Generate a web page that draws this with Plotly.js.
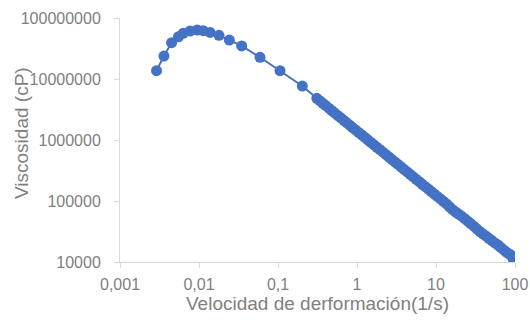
<!DOCTYPE html>
<html>
<head>
<meta charset="utf-8">
<script src="https://cdn.plot.ly/plotly-3.0.1.min.js"></script>
<style>html,body{margin:0;padding:0;background:#fff;}#chart{width:530px;height:325px;}</style>
</head>
<body>
<div id="chart"></div>
<script>
// Shear rate (1/s)
const shearRate = [
  0.0029, 0.0036, 0.0045, 0.0055, 0.0063, 0.0077, 0.0095, 0.0113, 0.0138, 0.0179, 0.0242, 0.0347, 0.0592,
  0.106, 0.203,
  0.31, 0.34, 0.37, 0.40, 0.44, 0.48, 0.52, 0.57, 0.62, 0.68, 0.74, 0.81, 0.88, 0.96,
  1.05, 1.15, 1.26, 1.37, 1.5, 1.64, 1.79, 1.95, 2.13, 2.33, 2.54, 2.78, 3.03, 3.31, 3.62, 3.95,
  4.32, 4.71, 5.15, 5.62, 6.14, 6.71, 7.33, 8.0, 8.74, 9.55,
  10.4, 11.4, 12.4, 13.6, 14.8, 16.2, 17.7, 19.3, 21.1, 23.1, 25.2, 27.5, 30.1, 32.8, 35.9, 39.2,
  42.8, 46.7, 51.0, 55.7, 60.9, 66.5, 72.6, 79.3, 86.6, 94.6
];
// Viscosity (cP)
const viscosity = [
  13700000, 23800000, 39400000, 49300000, 56000000, 61000000, 63600000, 62000000, 58000000, 52000000, 43500000, 34800000, 22700000,
  13700000, 7670000,
  4820000, 4370000, 4000000, 3680000, 3330000, 3030000, 2790000, 2530000, 2320000, 2100000, 1920000, 1750000, 1600000, 1460000,
  1330000, 1210000, 1100000, 1005000, 914000, 832000, 758000, 693000, 631000, 574000, 525000, 477000, 435000, 397000, 361000, 329000,
  300000, 274000, 249000, 227000, 207000, 188000, 172000, 157000, 143000, 130000,
  119000, 108000, 98600, 89500, 80500, 72000, 66000, 61000, 56300, 51200, 46700, 42600, 38700, 35000, 31600, 29000,
  26700, 24400, 22500, 20500, 19000, 17200, 15600, 14200, 13300, 11200
];
const xTickVals = [0.001, 0.01, 0.1, 1, 10, 100];
const xTickText = ['0,001', '0,01', '0,1', '1', '10', '100'];
const yTickVals = [10000, 100000, 1000000, 10000000, 100000000];
const yTickText = ['10000', '100000', '1000000', '10000000', '100000000'];
const xTitle = 'Velocidad de derformación(1/s)';
const yTitle = 'Viscosidad (cP)';

const blue = '#4472C4';
const grey = '#7f7f7f';
const axisGrey = '#d9d9d9';
const font = 'Liberation Sans, Arial, sans-serif';

Plotly.newPlot('chart', [{
  x: shearRate, y: viscosity, type: 'scatter', mode: 'lines+markers',
  line: {color: blue, width: 2},
  marker: {color: blue, size: 11}
}], {
  width: 530, height: 325,
  margin: {l: 120, r: 15, t: 18, b: 63},
  paper_bgcolor: '#fff', plot_bgcolor: '#fff',
  showlegend: false,
  font: {family: font, color: grey, size: 16},
  xaxis: {
    type: 'log', range: [-3, 2], tickvals: xTickVals, ticktext: xTickText,
    showgrid: false, zeroline: false, showline: true, linecolor: axisGrey, linewidth: 1,
    ticks: 'outside', ticklen: 5, tickcolor: axisGrey, ticklabelstandoff: 3,
    tickfont: {size: 16, color: grey, family: font},
    title: {text: xTitle, font: {size: 19, color: grey, family: font}, standoff: 2},
    automargin: false
  },
  yaxis: {
    type: 'log', range: [4, 8], tickvals: yTickVals, ticktext: yTickText,
    showgrid: false, zeroline: false, showline: true, linecolor: axisGrey, linewidth: 1,
    ticks: 'outside', ticklen: 5, tickcolor: axisGrey, ticklabelstandoff: 10,
    tickfont: {size: 16, color: grey, family: font},
    automargin: false
  },
  annotations: [{
    text: yTitle, textangle: -90, showarrow: false,
    xref: 'paper', yref: 'paper', x: 0, y: 0.5, xanchor: 'center', yanchor: 'middle',
    xshift: -99, yshift: 7,
    font: {size: 19, color: grey, family: font}
  }]
}, {displayModeBar: false, staticPlot: true});
</script>
</body>
</html>
